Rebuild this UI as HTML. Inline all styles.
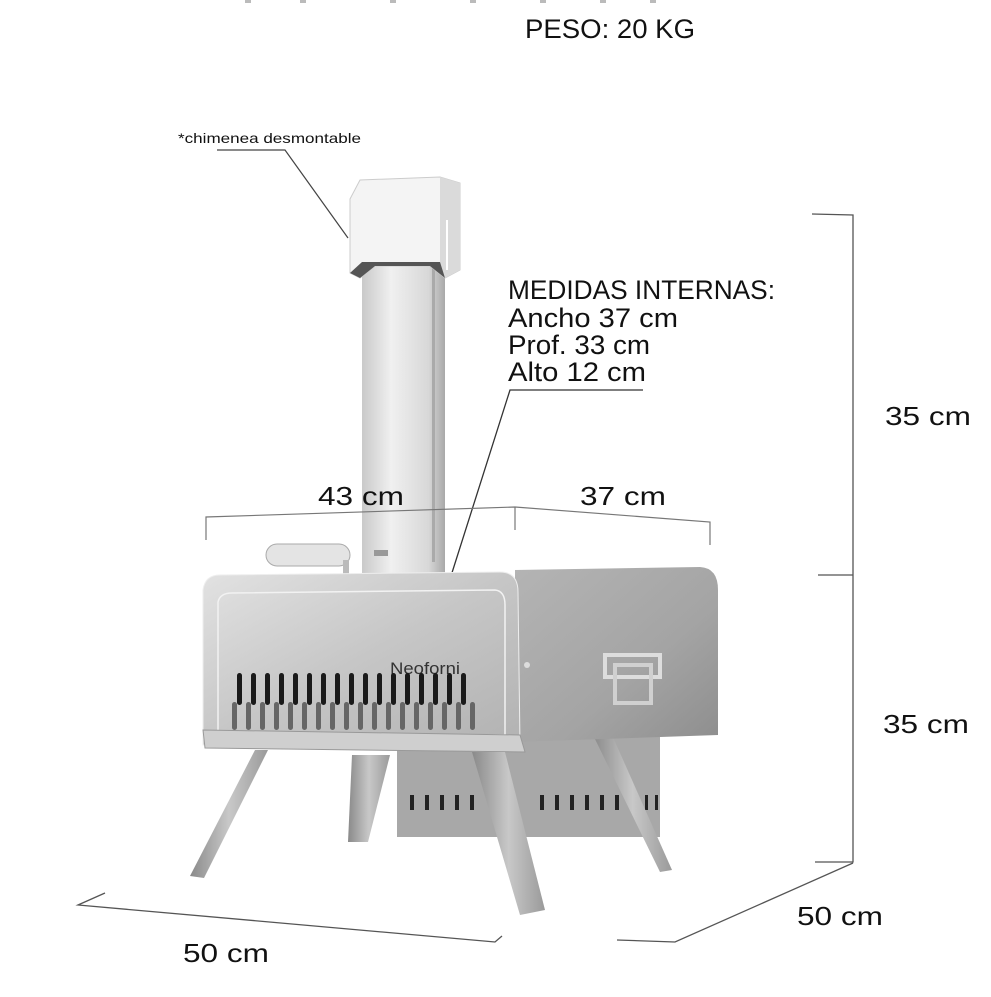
<!DOCTYPE html>
<html><head><meta charset="utf-8"><style>
html,body{margin:0;padding:0;background:#fff;}
svg{display:block;}
text{font-family:"Liberation Sans",sans-serif;fill:#111;}
</style></head><body>
<svg width="991" height="997" viewBox="0 0 991 997" xmlns="http://www.w3.org/2000/svg">
<defs>
<linearGradient id="pipe" x1="0" x2="1" y1="0" y2="0">
<stop offset="0" stop-color="#c9c9c9"/><stop offset="0.35" stop-color="#f0f0f0"/><stop offset="0.8" stop-color="#d8d8d8"/><stop offset="1" stop-color="#a9a9a9"/></linearGradient>
<linearGradient id="front" x1="0" x2="1" y1="0" y2="1">
<stop offset="0" stop-color="#e2e2e2"/><stop offset="0.5" stop-color="#c6c6c6"/><stop offset="1" stop-color="#b2b2b2"/></linearGradient>
<linearGradient id="side" x1="0" x2="1" y1="0" y2="1">
<stop offset="0" stop-color="#b4b4b4"/><stop offset="0.6" stop-color="#a4a4a4"/><stop offset="1" stop-color="#8e8e8e"/></linearGradient>
<linearGradient id="leg" x1="0" x2="1">
<stop offset="0" stop-color="#8a8a8a"/><stop offset="0.5" stop-color="#c8c8c8"/><stop offset="1" stop-color="#9a9a9a"/></linearGradient>
</defs>

<!-- cut top line marks -->
<g fill="#bbb"><rect x="245" y="0" width="6" height="3"/><rect x="300" y="0" width="6" height="3"/><rect x="390" y="0" width="6" height="3"/><rect x="470" y="0" width="6" height="3"/><rect x="540" y="0" width="6" height="3"/><rect x="600" y="0" width="6" height="3"/><rect x="650" y="0" width="6" height="3"/></g>

<text x="525" y="38" font-size="27" textLength="170" lengthAdjust="spacingAndGlyphs">PESO: 20 KG</text>

<text x="178" y="143" font-size="14" textLength="183" lengthAdjust="spacingAndGlyphs">*chimenea desmontable</text>
<polyline points="217,150 285,150 348,238" fill="none" stroke="#444" stroke-width="1.2"/>

<!-- chimney pipe -->
<rect x="362" y="262" width="83" height="312" fill="url(#pipe)"/>
<rect x="432" y="262" width="3" height="300" fill="#aaa"/>
<rect x="374" y="550" width="14" height="6" fill="#999"/>
<!-- chimney cap -->
<polygon points="350,199 360,180 440,177 460,183 460,270 445,278 430,266 375,266 360,278 350,273" fill="#f4f4f4" stroke="#ccc"/>
<polygon points="440,177 460,183 460,270 445,278 440,266" fill="#dadada"/>
<polygon points="350,273 360,278 375,266 430,266 445,278 440,262 362,262" fill="#555"/>
<rect x="446" y="220" width="2" height="50" fill="#fff"/>

<!-- medidas internas -->
<text x="508" y="299" font-size="27" textLength="267" lengthAdjust="spacingAndGlyphs">MEDIDAS INTERNAS:</text>
<text x="508" y="327" font-size="27" textLength="170" lengthAdjust="spacingAndGlyphs">Ancho 37 cm</text>
<text x="508" y="354" font-size="27" textLength="142" lengthAdjust="spacingAndGlyphs">Prof. 33 cm</text>
<text x="508" y="381" font-size="27" textLength="138" lengthAdjust="spacingAndGlyphs">Alto 12 cm</text>
<polyline points="643,390 510,390 437,620" fill="none" stroke="#333" stroke-width="1.3"/>

<!-- top dims -->
<text x="318" y="505" font-size="26" textLength="86" lengthAdjust="spacingAndGlyphs">43 cm</text>
<text x="580" y="505" font-size="26" textLength="86" lengthAdjust="spacingAndGlyphs">37 cm</text>
<polyline points="206,540 206,517 515,507 710,522 710,545" fill="none" stroke="#777" stroke-width="1.2"/>
<line x1="515" y1="507" x2="515" y2="530" stroke="#777" stroke-width="1.2"/>

<!-- right dims -->
<polyline points="812,214 853,215 853,862 815,862" fill="none" stroke="#555" stroke-width="1.3"/>
<line x1="818" y1="575" x2="853" y2="575" stroke="#555" stroke-width="1.3"/>
<text x="885" y="425" font-size="26" textLength="86" lengthAdjust="spacingAndGlyphs">35 cm</text>
<text x="883" y="733" font-size="26" textLength="86" lengthAdjust="spacingAndGlyphs">35 cm</text>
<polyline points="853,863 675,942 617,940" fill="none" stroke="#555" stroke-width="1.3"/>
<text x="797" y="925" font-size="26" textLength="86" lengthAdjust="spacingAndGlyphs">50 cm</text>
<polyline points="105,893 78,905 495,942 502,936" fill="none" stroke="#555" stroke-width="1.3"/>
<text x="183" y="962" font-size="26" textLength="86" lengthAdjust="spacingAndGlyphs">50 cm</text>

<!-- back legs & firebox -->
<polygon points="352,755 390,755 368,842 348,842" fill="url(#leg)"/>
<rect x="397" y="733" width="263" height="104" fill="#a8a8a8"/>
<g fill="#222">
<rect x="410" y="795" width="4" height="15"/><rect x="425" y="795" width="4" height="15"/><rect x="440" y="795" width="4" height="15"/><rect x="455" y="795" width="4" height="15"/><rect x="470" y="795" width="4" height="15"/><rect x="540" y="795" width="4" height="15"/><rect x="555" y="795" width="4" height="15"/><rect x="570" y="795" width="4" height="15"/><rect x="585" y="795" width="4" height="15"/><rect x="600" y="795" width="4" height="15"/><rect x="615" y="795" width="4" height="15"/><rect x="645" y="795" width="3" height="15"/><rect x="655" y="795" width="3" height="15"/>
</g>
<polygon points="593,735 612,735 672,870 660,872" fill="url(#leg)"/>

<!-- handle on top -->
<rect x="266" y="544" width="84" height="22" rx="11" fill="#e4e4e4" stroke="#aaa"/>
<rect x="343" y="560" width="6" height="55" fill="#bbb"/>

<!-- body right side -->
<path d="M515,570 L700,567 Q718,568 718,590 L718,735 L515,742 Z" fill="url(#side)"/>
<!-- side handle -->
<rect x="605" y="655" width="55" height="22" fill="none" stroke="#ddd" stroke-width="4"/>
<rect x="615" y="665" width="36" height="38" fill="none" stroke="#d0d0d0" stroke-width="4"/>
<circle cx="527" cy="665" r="3" fill="#ddd"/>
<!-- front -->
<path d="M203,590 Q205,575 220,575 L500,572 Q518,572 518,592 L520,745 L203,745 Z" fill="url(#front)" stroke="#eee"/>
<path d="M218,602 Q220,593 232,593 L495,590 Q505,591 505,605 L505,735 L218,735 Z" fill="none" stroke="#f2f2f2" stroke-width="1.5"/>
<text x="390" y="674" font-size="17" fill="#333" style="fill:#333" textLength="70" lengthAdjust="spacingAndGlyphs">Neoforni</text>
<g fill="#1a1a1a">
<rect x="237" y="673" width="5" height="32" rx="2.5"/><rect x="251" y="673" width="5" height="32" rx="2.5"/><rect x="265" y="673" width="5" height="32" rx="2.5"/><rect x="279" y="673" width="5" height="32" rx="2.5"/><rect x="293" y="673" width="5" height="32" rx="2.5"/><rect x="307" y="673" width="5" height="32" rx="2.5"/><rect x="321" y="673" width="5" height="32" rx="2.5"/><rect x="335" y="673" width="5" height="32" rx="2.5"/><rect x="349" y="673" width="5" height="32" rx="2.5"/><rect x="363" y="673" width="5" height="32" rx="2.5"/><rect x="377" y="673" width="5" height="32" rx="2.5"/><rect x="391" y="673" width="5" height="32" rx="2.5"/><rect x="405" y="673" width="5" height="32" rx="2.5"/><rect x="419" y="673" width="5" height="32" rx="2.5"/><rect x="433" y="673" width="5" height="32" rx="2.5"/><rect x="447" y="673" width="5" height="32" rx="2.5"/><rect x="461" y="673" width="5" height="32" rx="2.5"/>
</g>
<g fill="#666">
<rect x="232" y="702" width="5" height="28" rx="2.5"/><rect x="246" y="702" width="5" height="28" rx="2.5"/><rect x="260" y="702" width="5" height="28" rx="2.5"/><rect x="274" y="702" width="5" height="28" rx="2.5"/><rect x="288" y="702" width="5" height="28" rx="2.5"/><rect x="302" y="702" width="5" height="28" rx="2.5"/><rect x="316" y="702" width="5" height="28" rx="2.5"/><rect x="330" y="702" width="5" height="28" rx="2.5"/><rect x="344" y="702" width="5" height="28" rx="2.5"/><rect x="358" y="702" width="5" height="28" rx="2.5"/><rect x="372" y="702" width="5" height="28" rx="2.5"/><rect x="386" y="702" width="5" height="28" rx="2.5"/><rect x="400" y="702" width="5" height="28" rx="2.5"/><rect x="414" y="702" width="5" height="28" rx="2.5"/><rect x="428" y="702" width="5" height="28" rx="2.5"/><rect x="442" y="702" width="5" height="28" rx="2.5"/><rect x="456" y="702" width="5" height="28" rx="2.5"/><rect x="470" y="702" width="5" height="28" rx="2.5"/>
</g>
<!-- lip -->
<polygon points="203,730 520,735 525,752 205,748" fill="#cfcfcf" stroke="#999"/>
<!-- front legs -->
<polygon points="255,750 268,750 204,878 190,876" fill="url(#leg)"/>
<polygon points="472,752 505,752 545,910 520,915" fill="url(#leg)"/>
</svg>
</body></html>
